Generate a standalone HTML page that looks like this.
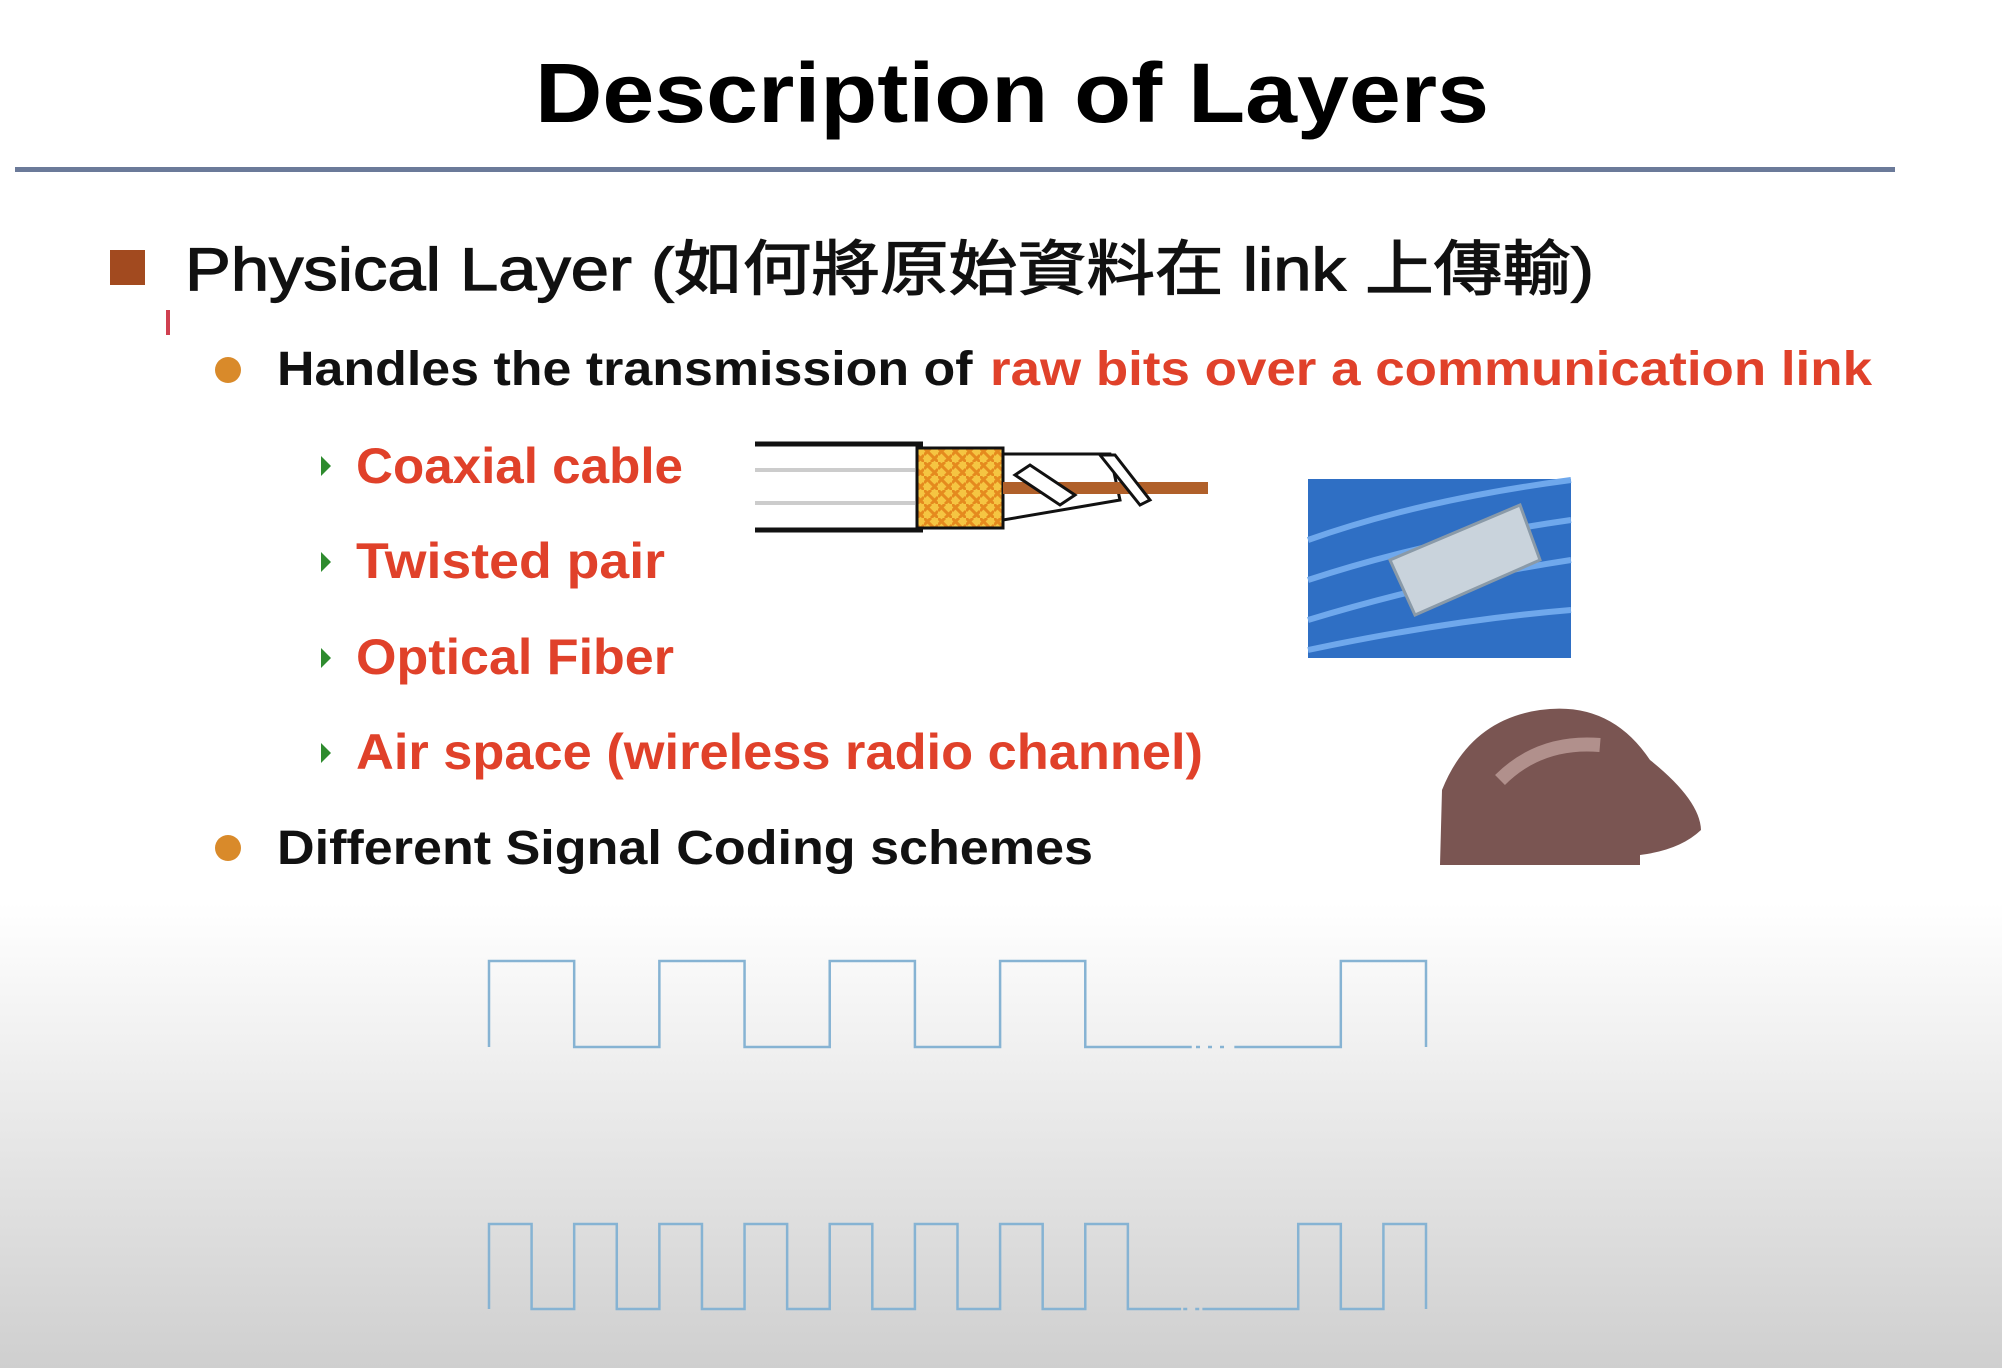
<!DOCTYPE html>
<html><head><meta charset="utf-8"><style>
html,body{margin:0;padding:0;width:2002px;height:1368px;overflow:hidden}
svg{display:block}
text{font-family:"Liberation Sans","Noto Sans CJK TC",sans-serif}
</style></head><body>
<svg id="slide" width="2002" height="1368" viewBox="0 0 2002 1368" xmlns="http://www.w3.org/2000/svg">
<defs>
<linearGradient id="bg" x1="0" y1="0" x2="0" y2="1">
<stop offset="0" stop-color="#ffffff"/><stop offset="0.66" stop-color="#ffffff"/><stop offset="1" stop-color="#cfcfcf"/>
</linearGradient>
<pattern id="braid" width="14" height="14" patternUnits="userSpaceOnUse">
<rect width="14" height="14" fill="#f5c542"/><path d="M0 7 L7 0 M7 14 L14 7 M0 0 L14 14" stroke="#e58a1e" stroke-width="3"/>
</pattern>
</defs>
<rect width="2002" height="1368" fill="url(#bg)"/>
<text x="535" y="122" font-size="84" font-weight="bold" textLength="954" lengthAdjust="spacingAndGlyphs" fill="#000">Description of Layers</text>
<rect x="15" y="167" width="1880" height="5" fill="#6b7a99"/>

<rect x="110" y="250" width="35" height="35" fill="#a24a1f"/>
<text x="185" y="290" font-size="60" textLength="1409" lengthAdjust="spacingAndGlyphs" fill="#111" stroke="#111" stroke-width="1.2">Physical Layer (如何將原始資料在 link 上傳輸)</text>
<rect x="166" y="310" width="4" height="25" fill="#d04050"/>

<circle cx="228" cy="370" r="13" fill="#d98a2a"/>
<text x="277" y="385" font-size="48" font-weight="bold" fill="#111"><tspan textLength="710" lengthAdjust="spacingAndGlyphs">Handles the transmission of </tspan><tspan x="990" fill="#e0412a" textLength="882" lengthAdjust="spacingAndGlyphs">raw bits over a communication link</tspan></text>

<g font-weight="bold" font-size="50" fill="#e0412a">
<path d="M321 456 L331 466 L321 476 Z" fill="#2e8b2e"/>
<text x="356" y="483" textLength="327" lengthAdjust="spacingAndGlyphs">Coaxial cable</text>
<path d="M321 552 L331 562 L321 572 Z" fill="#2e8b2e"/>
<text x="356" y="578" textLength="309" lengthAdjust="spacingAndGlyphs">Twisted pair</text>
<path d="M321 648 L331 658 L321 668 Z" fill="#2e8b2e"/>
<text x="356" y="674" textLength="318" lengthAdjust="spacingAndGlyphs">Optical Fiber</text>
<path d="M321 743 L331 753 L321 763 Z" fill="#2e8b2e"/>
<text x="356" y="769" textLength="847" lengthAdjust="spacingAndGlyphs">Air space (wireless radio channel)</text>
</g>

<circle cx="228" cy="848" r="13" fill="#d98a2a"/>
<text x="277" y="864" font-size="48" font-weight="bold" fill="#111" textLength="816" lengthAdjust="spacingAndGlyphs">Different Signal Coding schemes</text>

<g>
<rect x="755" y="444" width="168" height="86" fill="#fff"/>
<line x1="755" y1="444" x2="923" y2="444" stroke="#111" stroke-width="5"/>
<line x1="755" y1="530" x2="923" y2="530" stroke="#111" stroke-width="5"/>
<line x1="755" y1="470" x2="915" y2="470" stroke="#ccc" stroke-width="4"/>
<line x1="755" y1="503" x2="915" y2="503" stroke="#ccc" stroke-width="4"/>
<rect x="917" y="448" width="86" height="80" fill="url(#braid)" stroke="#111" stroke-width="3"/>
<path d="M1003 454 L1110 454 L1120 500 L1003 520 Z" fill="#fff" stroke="#111" stroke-width="3"/>
<rect x="1003" y="482" width="205" height="12" fill="#b0602a"/>
<path d="M1015 475 L1060 505 L1075 495 L1030 465 Z M1100 455 L1140 505 L1150 500 L1115 455 Z" fill="#fff" stroke="#111" stroke-width="3"/>
</g>

<g>
<rect x="1308" y="479" width="263" height="179" fill="#2f6fc4"/>
<path d="M1308 540 Q1420 500 1571 480 M1308 580 Q1430 540 1571 520 M1308 620 Q1440 580 1571 560 M1308 650 Q1450 620 1571 610" stroke="#6fa8ec" stroke-width="6" fill="none"/>
<path d="M1390 560 L1520 505 L1540 560 L1415 615 Z" fill="#c9d3dc" stroke="#8a9aa8" stroke-width="3"/>
</g>

<g>
<path d="M1440 865 L1442 790 Q1470 720 1540 710 Q1610 700 1650 760 Q1700 800 1701 830 Q1680 850 1640 855 L1640 865 Z" fill="#7a5552"/>
<path d="M1500 780 Q1540 740 1600 745" stroke="#c9aaa5" stroke-width="14" fill="none" opacity="0.7"/>
</g>

<g id="waves"></g>
</svg>
<script>
// waveform data: signal levels per half-bit unit
const slowLevels = [1,0,1,0,1,0,1,0,0,0,1];
const fastLevels = [1,0,1,0,1,0,1,0,1,0,1,0,1,0,1,0,0,0,0,1,0,1];
const slowGapUnit = 8;   // unit where the "..." gap sits
const fastGapUnit = 16;

const NS = "http://www.w3.org/2000/svg";
const xStart = 489, xEnd = 1426;
function drawWave(levels, gapUnit, yHigh, yLow, name) {
  const g = document.getElementById('waves');
  const unit = (xEnd - xStart) / levels.length;
  const xs = i => xStart + i * unit;
  const ys = v => v ? yHigh : yLow;
  let d = `M${xs(0)} ${yLow} L${xs(0)} ${ys(levels[0])}`;
  for (let i = 0; i < levels.length; i++) {
    const y = ys(levels[i]);
    if (i > 0 && levels[i] !== levels[i-1]) d += ` L${xs(i)} ${y}`;
    if (i === gapUnit) {
      d += ` L${xs(i) + unit*0.25} ${y} M${xs(i) + unit*0.75} ${y}`;
    }
    d += ` L${xs(i+1)} ${y}`;
  }
  d += ` L${xEnd} ${yLow}`;
  const p = document.createElementNS(NS, 'path');
  
  
  p.setAttribute('d', d);
  p.setAttribute('fill', 'none');
  p.setAttribute('stroke', '#86b3d3');
  p.setAttribute('stroke-width', '2.5');
  g.appendChild(p);
  const gy = ys(levels[gapUnit]);
  const dots = document.createElementNS(NS, 'line');
  
  
  dots.setAttribute('x1', xs(gapUnit) + unit*0.3);
  dots.setAttribute('x2', xs(gapUnit) + unit*0.72);
  dots.setAttribute('y1', gy);
  dots.setAttribute('y2', gy);
  dots.setAttribute('stroke', '#86b3d3');
  dots.setAttribute('stroke-width', '2.5');
  dots.setAttribute('stroke-dasharray', '4 8');
  g.appendChild(dots);
}
drawWave(slowLevels, slowGapUnit, 961, 1047, 'slow-square-wave');
drawWave(fastLevels, fastGapUnit, 1224, 1309, 'fast-square-wave');
</script>
</body></html>
